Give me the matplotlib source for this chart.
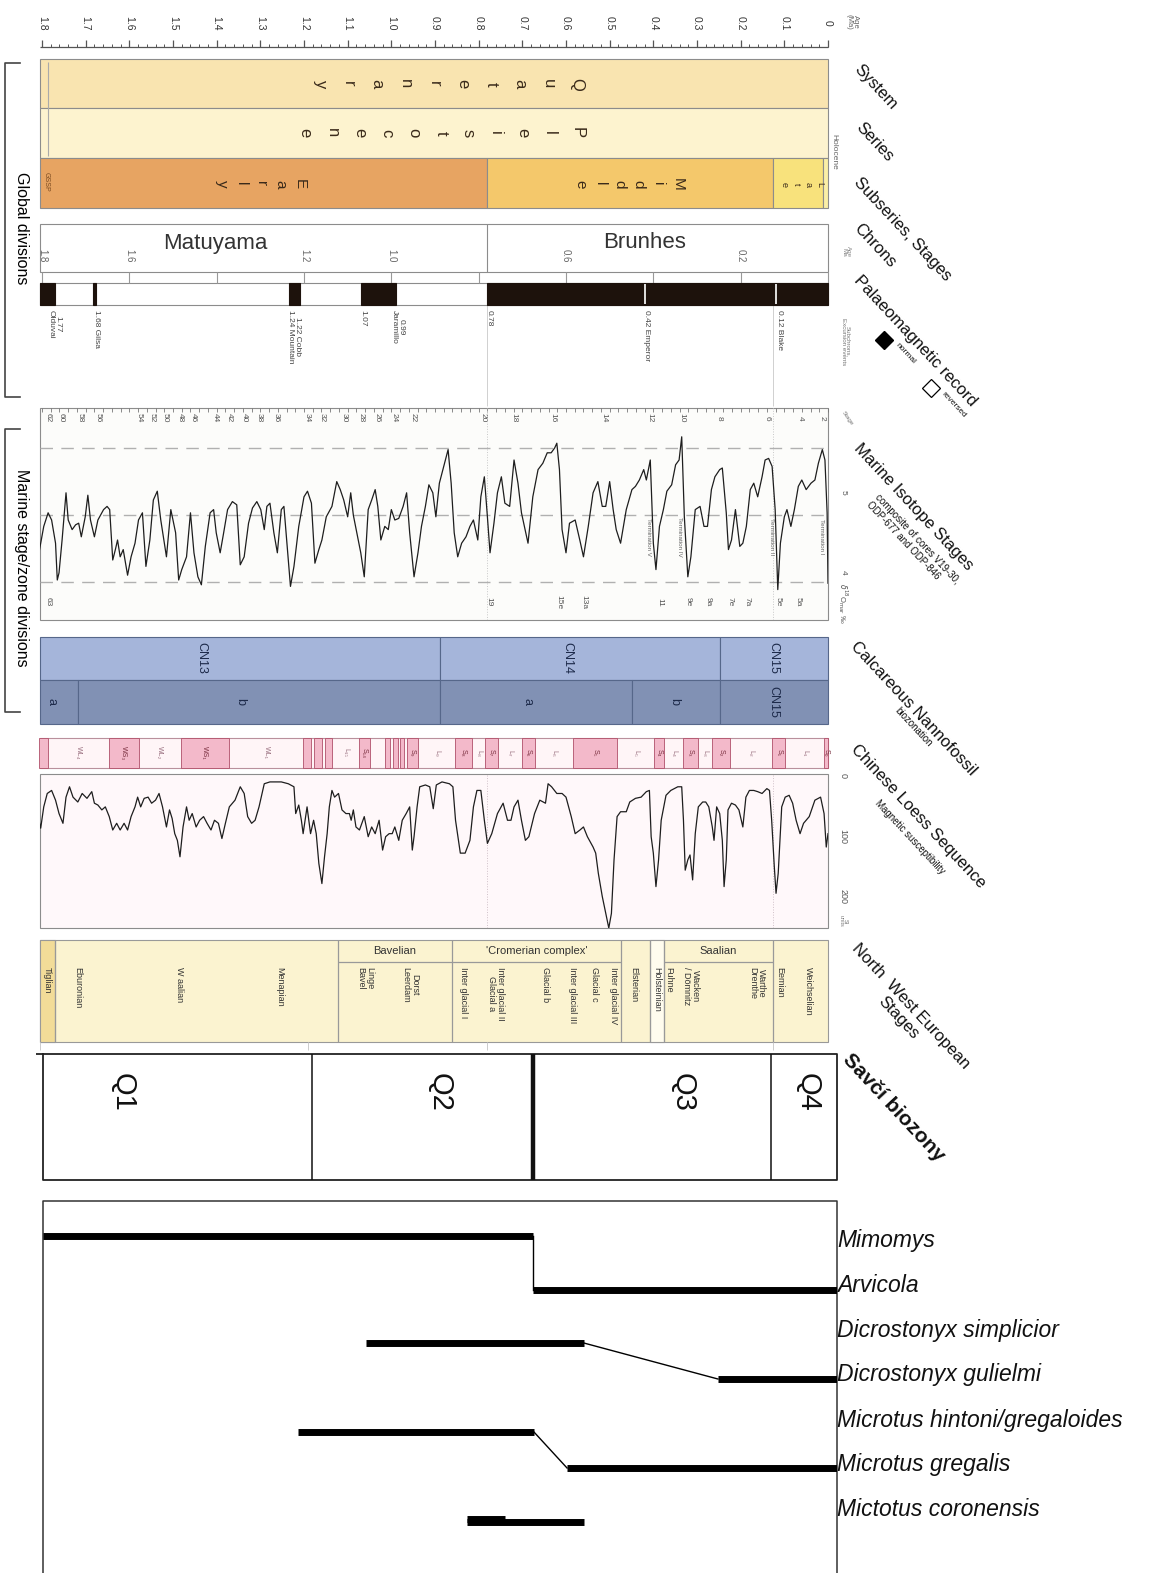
import numpy as np
import matplotlib.pyplot as plt
from matplotlib.patches import Rectangle

plt.rcParams['font.family'] = ['Liberation Sans', 'DejaVu Sans']

# ---------------- data ----------------
# chronostratigraphy (Ma)
sub_names = ['Early', 'Middle', 'Late', '']
sub_old = [1.805, 0.781, 0.126, 0.0117]
sub_young = [0.781, 0.126, 0.0117, 0.0]

chron_names = ['Matuyama', 'Brunhes']
chron_label_age = [1.404, 0.419]
chron_boundary = 0.78
chron_tick_ages = [1.8, 1.6, 1.2, 1.0, 0.6, 0.2]

normal_old = [1.805, 1.683, 1.235, 1.07, 0.78]
normal_young = [1.77, 1.677, 1.21, 0.99, 0.0]
excursion_ages = [0.42, 0.12]
subchron_text = ['1.77\nOlduvai', '1.68 Gilsa', '1.22 Cobb\n1.24 Mountain', '1.07',
                 '0.99\nJaramillo', '0.78', '0.42 Emperor', '0.12 Blake']
subchron_age = [1.772, 1.676, 1.222, 1.065, 0.985, 0.777, 0.415, 0.112]

# marine isotope record (age Ma, d18O per mil)
mis_age = [1.807, 1.796, 1.786, 1.778, 1.769, 1.765, 1.761, 1.754, 1.745, 1.740,
           1.731, 1.723, 1.716, 1.710, 1.701, 1.695, 1.689, 1.680, 1.672, 1.659,
           1.651, 1.645, 1.638, 1.632, 1.627, 1.621, 1.614, 1.604, 1.596, 1.587,
           1.579, 1.570, 1.562, 1.553, 1.545, 1.536, 1.528, 1.515, 1.505, 1.494,
           1.487, 1.480, 1.469, 1.460, 1.452, 1.443, 1.435, 1.426, 1.415, 1.407,
           1.401, 1.392, 1.384, 1.375, 1.364, 1.354, 1.346, 1.337, 1.327, 1.318,
           1.308, 1.299, 1.291, 1.285, 1.278, 1.269, 1.261, 1.252, 1.246, 1.240,
           1.231, 1.223, 1.212, 1.200, 1.192, 1.183, 1.175, 1.166, 1.159, 1.149,
           1.136, 1.125, 1.117, 1.109, 1.100, 1.093, 1.087, 1.079, 1.070, 1.062,
           1.053, 1.045, 1.037, 1.031, 1.024, 1.015, 1.007, 1.000, 0.992, 0.983,
           0.973, 0.965, 0.958, 0.948, 0.939, 0.931, 0.922, 0.914, 0.905, 0.898,
           0.890, 0.880, 0.870, 0.863, 0.856, 0.848, 0.839, 0.829, 0.820, 0.812,
           0.802, 0.795, 0.787, 0.780, 0.774, 0.765, 0.757, 0.748, 0.740, 0.729,
           0.719, 0.710, 0.702, 0.687, 0.676, 0.664, 0.653, 0.643, 0.634, 0.626,
           0.621, 0.615, 0.609, 0.600, 0.592, 0.579, 0.568, 0.560, 0.549, 0.538,
           0.527, 0.517, 0.509, 0.500, 0.492, 0.485, 0.475, 0.462, 0.449, 0.441,
           0.432, 0.422, 0.416, 0.407, 0.400, 0.394, 0.386, 0.377, 0.369, 0.358,
           0.349, 0.341, 0.335, 0.329, 0.321, 0.314, 0.304, 0.293, 0.284, 0.276,
           0.267, 0.259, 0.248, 0.242, 0.233, 0.228, 0.221, 0.212, 0.202, 0.195,
           0.187, 0.178, 0.170, 0.161, 0.151, 0.144, 0.136, 0.128, 0.121, 0.115,
           0.109, 0.100, 0.094, 0.085, 0.077, 0.068, 0.060, 0.050, 0.039, 0.030,
           0.022, 0.013, 0.007, 0.002, 0.000]
mis_d18o = [4.25, 4.58, 4.75, 4.66, 4.37, 3.91, 4.00, 4.41, 5.00, 4.66,
            4.54, 4.60, 4.62, 4.45, 4.70, 4.97, 4.66, 4.45, 4.66, 4.79,
            4.83, 4.79, 4.16, 4.29, 4.41, 4.20, 4.29, 3.97, 4.20, 4.37,
            4.66, 4.75, 4.08, 4.41, 4.91, 5.02, 4.66, 4.20, 4.79, 4.50,
            3.91, 4.04, 4.20, 4.75, 4.25, 3.95, 3.85, 4.33, 4.75, 4.79,
            4.50, 4.25, 4.50, 4.79, 4.89, 4.85, 4.10, 4.20, 4.62, 4.81,
            4.89, 4.79, 4.54, 4.83, 4.87, 4.50, 4.25, 4.79, 4.83, 4.43,
            3.83, 4.08, 4.58, 4.95, 5.02, 4.87, 4.12, 4.29, 4.41, 4.70,
            4.83, 5.14, 5.04, 4.91, 4.70, 5.00, 4.72, 4.50, 4.25, 3.95,
            4.79, 4.91, 5.04, 4.83, 4.41, 4.58, 4.54, 4.79, 4.66, 4.68,
            4.83, 5.00, 4.50, 3.95, 4.25, 4.58, 4.83, 5.10, 5.00, 4.70,
            5.12, 5.33, 5.54, 5.12, 4.50, 4.20, 4.37, 4.45, 4.58, 4.66,
            4.41, 4.95, 5.20, 4.70, 4.25, 4.62, 5.00, 5.20, 4.87, 4.83,
            5.41, 5.12, 4.75, 4.37, 4.95, 5.29, 5.37, 5.50, 5.50, 5.56,
            5.62, 5.29, 4.54, 4.25, 4.62, 4.66, 4.40, 4.20, 4.58, 5.00,
            5.14, 4.83, 4.83, 5.14, 4.79, 4.54, 4.37, 4.79, 5.04, 5.08,
            5.16, 5.29, 5.16, 5.41, 4.37, 4.04, 4.58, 4.79, 5.02, 5.10,
            5.35, 5.41, 5.70, 4.70, 3.95, 4.20, 4.79, 4.83, 4.58, 4.58,
            5.04, 5.20, 5.29, 5.31, 4.75, 4.29, 4.41, 4.79, 4.33, 4.37,
            4.58, 5.04, 5.12, 4.95, 5.20, 5.41, 5.43, 5.33, 4.79, 3.79,
            4.37, 4.70, 4.79, 4.58, 4.79, 5.08, 5.16, 5.04, 5.12, 5.16,
            5.37, 5.54, 5.41, 4.75, 3.87]
mis_ref_levels = [5.56, 4.72, 3.89]
mis_even = [62, 60, 58, 56, 54, 52, 50, 48, 46, 44, 42, 40, 38, 36, 34, 32,
            30, 28, 26, 24, 22, 20, 18, 16, 14, 12, 10, 8, 6, 4, 2]
mis_even_age = [1.786, 1.756, 1.713, 1.672, 1.578, 1.548, 1.518, 1.484, 1.454, 1.404,
                1.372, 1.337, 1.303, 1.264, 1.193, 1.159, 1.108, 1.070, 1.033, 0.994,
                0.950, 0.790, 0.719, 0.630, 0.513, 0.408, 0.334, 0.250, 0.140, 0.064, 0.014]
mis_odd = ['63', '19', '15e', '13a', '11', '9e', '9a', '7e', '7a', '5e', '5a']
mis_odd_age = [1.786, 0.776, 0.616, 0.559, 0.385, 0.321, 0.275, 0.224, 0.186, 0.115, 0.069]
termination_names = ['Termination I', 'Termination II', 'Termination IV', 'Termination V']
termination_age = [0.014, 0.130, 0.339, 0.412]

# calcareous nannofossil zones
nanno_upper = ['CN13', 'CN14', 'CN15']
nanno_upper_bounds = [1.805, 0.888, 0.247, 0.0]
nanno_upper_label_age = [1.434, 0.596, 0.124]
nanno_lower = ['a', 'b', 'a', 'b', 'CN15']
nanno_lower_bounds = [1.805, 1.718, 0.888, 0.449, 0.247, 0.0]
nanno_lower_label_age = [1.779, 1.347, 0.689, 0.353, 0.124]

# Chinese loess: palaeosols (pink) and magnetic susceptibility
soil_old = [1.807, 1.647, 1.482, 1.202, 1.177, 1.152, 1.074, 1.015, 0.996, 0.980,
            0.964, 0.854, 0.785, 0.701, 0.584, 0.398, 0.332, 0.266, 0.128, 0.009]
soil_young = [1.786, 1.578, 1.372, 1.184, 1.159, 1.136, 1.049, 1.003, 0.985, 0.971,
              0.939, 0.815, 0.756, 0.671, 0.483, 0.376, 0.298, 0.224, 0.098, 0.0]
soil_names = ['', 'WS\u2083', 'WS\u2081', '', '', '', 'S\u2081\u2084', '', '', '',
              'S\u2089', 'S\u2088', 'S\u2087', 'S\u2086', 'S\u2085', 'S\u2084', 'S\u2083',
              'S\u2082', 'S\u2081', 'S\u2080']
loess_name = ['WL\u2084', 'WL\u2082', 'WL\u2081', 'L\u2081\u2085', 'L\u2089', 'L\u2088',
              'L\u2087', 'L\u2086', 'L\u2085', 'L\u2084', 'L\u2083', 'L\u2082', 'L\u2081']
loess_name_age = [1.716, 1.530, 1.287, 1.105, 0.896, 0.800, 0.728, 0.628, 0.440,
                  0.354, 0.282, 0.176, 0.054]

loess_age = [1.807, 1.803, 1.796, 1.788, 1.778, 1.769, 1.761, 1.752, 1.745, 1.737,
             1.729, 1.718, 1.708, 1.697, 1.686, 1.680, 1.672, 1.663, 1.655, 1.646,
             1.638, 1.629, 1.621, 1.612, 1.604, 1.596, 1.587, 1.581, 1.574, 1.566,
             1.557, 1.549, 1.540, 1.532, 1.524, 1.515, 1.508, 1.502, 1.496, 1.490,
             1.484, 1.477, 1.469, 1.463, 1.456, 1.447, 1.439, 1.430, 1.422, 1.413,
             1.405, 1.396, 1.388, 1.380, 1.371, 1.358, 1.346, 1.337, 1.329, 1.320,
             1.312, 1.303, 1.291, 1.278, 1.252, 1.236, 1.223, 1.219, 1.212, 1.206,
             1.202, 1.193, 1.185, 1.178, 1.172, 1.166, 1.159, 1.153, 1.147, 1.142,
             1.136, 1.130, 1.121, 1.113, 1.104, 1.096, 1.092, 1.087, 1.081, 1.073,
             1.062, 1.053, 1.045, 1.037, 1.028, 1.020, 1.013, 1.005, 0.998, 0.992,
             0.983, 0.975, 0.966, 0.958, 0.952, 0.948, 0.941, 0.935, 0.922, 0.912,
             0.904, 0.897, 0.884, 0.867, 0.859, 0.853, 0.842, 0.831, 0.820, 0.812,
             0.804, 0.795, 0.787, 0.780, 0.770, 0.757, 0.744, 0.734, 0.726, 0.719,
             0.710, 0.702, 0.693, 0.685, 0.672, 0.660, 0.647, 0.641, 0.633, 0.621,
             0.609, 0.600, 0.588, 0.579, 0.568, 0.560, 0.551, 0.538, 0.532, 0.526,
             0.517, 0.509, 0.502, 0.496, 0.490, 0.483, 0.475, 0.462, 0.454, 0.441,
             0.428, 0.416, 0.409, 0.405, 0.400, 0.394, 0.388, 0.382, 0.371, 0.360,
             0.352, 0.344, 0.335, 0.331, 0.327, 0.321, 0.316, 0.310, 0.304, 0.297,
             0.287, 0.280, 0.273, 0.265, 0.261, 0.255, 0.248, 0.242, 0.238, 0.233,
             0.229, 0.221, 0.212, 0.204, 0.195, 0.188, 0.180, 0.170, 0.161, 0.151,
             0.140, 0.134, 0.129, 0.123, 0.119, 0.114, 0.106, 0.098, 0.089, 0.081,
             0.073, 0.064, 0.056, 0.043, 0.030, 0.017, 0.009, 0.004, 0.000]
loess_chi = [74, 87, 52, 30, 25, 41, 63, 79, 36, 19,
             36, 44, 30, 38, 27, 46, 49, 57, 52, 68,
             90, 79, 90, 79, 90, 68, 52, 36, 52, 38,
             36, 46, 41, 30, 52, 85, 57, 71, 96, 107,
             134, 85, 52, 74, 63, 85, 74, 68, 79, 90,
             74, 79, 104, 79, 52, 41, 19, 30, 68, 79,
             74, 52, 14, 11, 11, 14, 19, 63, 49, 74,
             96, 52, 96, 74, 96, 145, 178, 134, 96, 52,
             25, 36, 30, 57, 63, 63, 74, 57, 85, 90,
             68, 101, 85, 96, 74, 123, 101, 96, 96, 85,
             107, 74, 63, 52, 123, 101, 52, 19, 16, 19,
             55, 16, 11, 14, 19, 74, 128, 128, 107, 52,
             25, 25, 74, 112, 96, 63, 46, 74, 74, 52,
             41, 74, 107, 101, 63, 41, 46, 14, 19, 30,
             30, 36, 68, 96, 90, 85, 101, 118, 128, 161,
             199, 227, 251, 227, 139, 68, 60, 60, 44, 38,
             36, 27, 25, 101, 128, 183, 139, 74, 33, 25,
             22, 19, 19, 74, 156, 139, 131, 172, 96, 52,
             44, 44, 52, 85, 107, 52, 63, 107, 183, 139,
             57, 46, 49, 57, 85, 36, 25, 25, 27, 30,
             22, 25, 74, 150, 194, 161, 52, 36, 33, 46,
             74, 96, 79, 68, 41, 36, 63, 118, 96]

# North West European stages
nw_bounds = [1.805, 1.770, 1.122, 0.861, 0.474, 0.408, 0.376, 0.126, 0.0]
nw_groups = ['Bavelian', "'Cromerian complex'", 'Saalian']
nw_group_old = [1.122, 0.861, 0.376]
nw_group_young = [0.861, 0.474, 0.126]
nw_names = ['Tiglian', 'Eburonian', 'W aalian', 'Menapian', 'Linge\nBavel', 'Dorst\nLeerdam',
            'Inter glacial I', 'Inter glacial II\nGlacial a', 'Glacial b', 'Inter glacial III',
            'Glacial c', 'Inter glacial IV', 'Elsterian', 'Holsteinian', 'Fuhne',
            'Wacken\n/ Dömnitz', 'Warthe\nDrenthe', 'Eemian', 'Weichselian']
nw_age = [1.789, 1.718, 1.484, 1.255, 1.060, 0.957, 0.834, 0.760, 0.646, 0.586,
          0.534, 0.492, 0.444, 0.392, 0.364, 0.314, 0.163, 0.110, 0.044]

# mammal biozones and vole lineages
q_names = ['Q1', 'Q2', 'Q3', 'Q4']
q_bounds = [1.8, 1.19, 0.69, 0.15, 0.0]
q_label_age = [1.62, 0.90, 0.35, 0.066]

species = ['Mimomys', 'Arvicola', 'Dicrostonyx simplicior', 'Dicrostonyx gulielmi',
           'Microtus hintoni/gregaloides', 'Microtus gregalis', 'Mictotus coronensis']
species_first = [1.8, 0.69, 1.068, 0.270, 1.222, 0.612, 0.839]
species_last = [0.69, 0.0, 0.574, 0.0, 0.687, 0.0, 0.574]
ancestor_of = [(0, 1), (2, 3), (4, 5)]

# ---------------- layout ----------------
W, H = 1159, 1573
fig = plt.figure(figsize=(W / 100, H / 100), dpi=100)
fig.patch.set_facecolor('white')


def age_at(px, x_old=42, x_now=828):
    return 1.8 - (px - x_old) / (x_now - x_old) * 1.8


def add_axes(x0, y0, x1, y1, xlim, ylim):
    ax = fig.add_axes([x0 / W, 1 - y1 / H, (x1 - x0) / W, (y1 - y0) / H])
    ax.set_xlim(*xlim)
    ax.set_ylim(*ylim)
    ax.axis('off')
    return ax


page = add_axes(0, 0, W, H, (0, W), (H, 0))
time = add_axes(0, 0, W, H, (age_at(0), age_at(W)), (H, 0))
lower = add_axes(43, 0, 837, H, (1.8, 0.0), (H, 0))

EDGE = '#8c8c8c'


def band(ax, old, young, y0, y1, fc, ec=EDGE, lw=0.8, z=1):
    ax.add_patch(Rectangle((young, y0), old - young, y1 - y0, facecolor=fc,
                           edgecolor=ec, linewidth=lw, zorder=z))


def vtext(ax, x, y, s, size, color='#222', va='center', **kw):
    ax.text(x, y, s, rotation=-90, ha='center', va=va, fontsize=size, color=color,
            linespacing=1.0, **kw)


def spaced(word, a_first, a_last, y, size):
    for ch, a in zip(word, np.linspace(a_first, a_last, len(word))):
        vtext(time, a, y, ch, size, color='#3a2a1a', zorder=3)


def slanted(x, y, s, size, **kw):
    page.text(x, y, s, rotation=-47, rotation_mode='anchor', ha='left', va='top',
              fontsize=size, color='#111', **kw)


# age ruler
minor = np.round(np.arange(0, 1.8001, 0.02), 2)
major = np.round(np.arange(0, 1.8001, 0.1), 1)
time.hlines(47, 1.805, 0, color='#555', lw=0.9)
time.vlines(minor, 44, 47, color='#555', lw=0.7)
time.vlines(major, 40, 47, color='#555', lw=0.9)
for a in major:
    vtext(time, a, 23, '0' if a == 0 else f'{a:.1f}', 7.5, color='#333')
page.text(852, 22, 'Age\n(Ma)', rotation=-90, ha='center', va='center', fontsize=5.5,
          color='#666', linespacing=0.9)

# system / series / subseries
band(time, 1.805, 0.0, 59, 108, '#F9E4B0')
band(time, 1.805, 0.0, 108, 158, '#FDF3CF')
time.vlines(1.786, 62, 156, color='#aaa', lw=0.8, zorder=2)
spaced('Quaternary', 0.575, 1.163, 84, 12)
spaced('Pleistocene', 0.575, 1.198, 133, 12)
sub_colors = ['#E7A462', '#F4C86B', '#F8E27C', '#FBEFA6']
for name, o, y, c in zip(sub_names, sub_old, sub_young, sub_colors):
    band(time, o, y, 158, 208, c)
spaced('Early', 1.209, 1.388, 184, 11)
spaced('Middle', 0.344, 0.568, 184, 11)
spaced('Late', 0.018, 0.101, 184, 6.5)
vtext(time, 1.79, 182, 'GSSP', 5, color='#7a4a20', zorder=3)
page.text(834, 152, 'Holocene', rotation=-90, ha='center', va='center', fontsize=6, color='#666')

# chrons
band(time, 1.805, 0.0, 224, 272, 'white')
time.vlines(chron_boundary, 224, 272, color=EDGE, lw=0.8, zorder=2)
for name, a in zip(chron_names, chron_label_age):
    time.text(a, 243, name, ha='center', va='center', fontsize=16, color='#333', zorder=3)
for a in chron_tick_ages:
    vtext(time, a, 256, f'{a:.1f}', 7, color='#666', zorder=3)
time.vlines(np.round(np.arange(0, 1.8001, 0.2), 1), 272, 283, color='#999', lw=0.8)
page.text(846, 252, 'Age\nMa', rotation=-90, ha='center', va='center', fontsize=4.5,
          color='#888', linespacing=0.9)

# palaeomagnetic record
band(time, 1.805, 0.0, 283, 305, 'white')
for o, y in zip(normal_old, normal_young):
    band(time, o, y, 283, 305, '#1d120c', ec='#1d120c', z=2)
time.vlines(excursion_ages, 284, 304, color='#f0f0f0', lw=1.3, zorder=3)
for s, a in zip(subchron_text, subchron_age):
    vtext(time, a, 310, s, 6, color='#444', va='top', zorder=3)
page.text(846, 342, 'Subchrons,\nExcursion events', rotation=-90, ha='center', va='center',
          fontsize=4.5, color='#777', linespacing=0.9)
time.vlines([0.78, 0.126], 305, 406, color='#d0d0d0', lw=0.7, zorder=0)

# marine isotope stages
band(time, 1.805, 0.0, 408, 620, '#FCFCFA')
time.vlines(minor, 408, 412, color='#777', lw=0.6, zorder=2)
mis = add_axes(40, 408, 828, 620, (age_at(40), 0.0), (3.41, 6.06))
for v in mis_ref_levels:
    mis.axhline(v, color='#b0b0b0', lw=1.0, dashes=(9, 6))
for a in (0.78, 0.126):
    mis.axvline(a, color='#c8c8c8', lw=0.7, ls=':')
mis.plot(mis_age, mis_d18o, color='#1e1e1e', lw=0.9)
for n, a in zip(mis_even, mis_even_age):
    vtext(time, a, 418, str(n), 6, color='#555', zorder=3)
for s, a in zip(mis_odd, mis_odd_age):
    vtext(time, a, 602, s, 6, color='#555', zorder=3)
for s, a in zip(termination_names, termination_age):
    mis.text(a, 4.45, s, rotation=-90, ha='center', va='center', fontsize=4.5, color='#666')
for v in (5, 4):
    mis.text(-0.035, v, str(v), rotation=-90, ha='center', va='center', fontsize=6, color='#555')
mis.text(-0.035, 3.62, r'$\delta^{18}$O$_{\rm mar}$ ‰', rotation=-90, ha='center', va='center',
         fontsize=5.5, color='#555')
page.text(847, 418, 'Stage', rotation=-55, ha='center', va='center', fontsize=4.5, color='#777')

# calcareous nannofossil zones
for i in range(len(nanno_upper)):
    band(time, nanno_upper_bounds[i], nanno_upper_bounds[i + 1], 637, 680, '#A5B5DA', ec='#56678a')
for i in range(len(nanno_lower)):
    band(time, nanno_lower_bounds[i], nanno_lower_bounds[i + 1], 680, 724, '#8191B4', ec='#56678a')
for s, a in zip(nanno_upper, nanno_upper_label_age):
    vtext(time, a, 658, s, 9, color='#1d2a4a', zorder=3)
for s, a in zip(nanno_lower, nanno_lower_label_age):
    vtext(time, a, 702, s, 9, color='#1d2a4a', zorder=3)

# loess-palaeosol column
band(time, 1.805, 0.0, 738, 768, '#FFF5F7', ec='#b9909c')
for o, y, s in zip(soil_old, soil_young, soil_names):
    band(time, o, y, 738, 768, '#F3B9CA', ec='#b0506a', lw=0.6, z=2)
    if s:
        vtext(time, (o + y) / 2, 753, s, 5, color='#7a3040', zorder=3)
for s, a in zip(loess_name, loess_name_age):
    vtext(time, a, 753, s, 5, color='#9a7080', zorder=3)

band(time, 1.805, 0.0, 774, 928, '#FFF8FA')
loess = add_axes(40, 774, 828, 928, (age_at(40), 0.0), (251, -2))
for a in (0.78, 0.126):
    loess.axvline(a, color='#d0c0c8', lw=0.7, ls=':')
loess.plot(loess_age, loess_chi, color='#1e1e1e', lw=0.9)
for v in (0, 100, 200):
    loess.text(-0.035, v, str(v), rotation=-90, ha='center', va='center', fontsize=6.5, color='#555')
loess.text(-0.035, 240, 'SI\nunits', rotation=-90, ha='center', va='center', fontsize=4,
           color='#777', linespacing=0.9)

# North West European stages
band(time, 1.805, 0.0, 940, 1042, '#FBF3D0', ec='#999')
band(time, nw_bounds[0], nw_bounds[1], 940, 1042, '#F2DC98', ec='#999', z=2)
band(time, nw_bounds[5], nw_bounds[6], 940, 1042, '#FFFCEE', ec='#999', z=2)
time.vlines(nw_bounds[1:-1], 940, 1042, color='#999', lw=0.9, zorder=2)
for s, o, y in zip(nw_groups, nw_group_old, nw_group_young):
    time.hlines(962, o, y, color='#999', lw=0.9, zorder=2)
    time.text((o + y) / 2, 951, s, ha='center', va='center', fontsize=8, color='#333', zorder=3)
for s, a in zip(nw_names, nw_age):
    vtext(time, a, 967, s, 6.5, color='#333', va='top', zorder=3)
time.vlines([1.805, 1.19, 0.78, 0.126], 1042, 1050, color='#ccc', lw=0.7)

# mammal biozones
lower.plot([1.8, 1.8, 0, 0, 1.8], [1054, 1180, 1180, 1054, 1054], color='#222', lw=1.3,
           clip_on=False)
lower.hlines(1054, 1.815, 1.8, color='#222', lw=1.3, clip_on=False)
lower.vlines(q_bounds[1:-1], 1054, 1180, color='#111', lw=[1.1, 3.2, 1.1])
for s, a in zip(q_names, q_label_age):
    lower.text(a, 1092, s, rotation=-90, ha='center', va='center', fontsize=21, color='#111')

# vole ranges
lower.plot([1.8, 1.8, 0, 0], [H, 1201, 1201, H], color='#333', lw=1.1, clip_on=False)
row_y = [1240 + 45 * i for i in range(len(species))]
bar_shift = [-4, 5, 13, 4, 12, 3, 12]
bar_y = [r + s for r, s in zip(row_y, bar_shift)]
for i in range(len(species)):
    lower.plot([species_first[i], species_last[i]], [bar_y[i], bar_y[i]], color='black',
               lw=5, solid_capstyle='butt')
lower.plot([species_first[6], 0.753], [bar_y[6] - 3, bar_y[6] - 3], color='black', lw=5,
           solid_capstyle='butt')
for a, b in ancestor_of:
    lower.plot([species_last[a], species_first[b]], [bar_y[a], bar_y[b]], color='black', lw=1.0)
for s, y in zip(species, row_y):
    page.text(837, y, s, ha='left', va='center', fontsize=16.5, style='italic', color='#111')

# side brackets
page.plot([20, 5, 5, 20], [63, 63, 397, 397], color='#444', lw=1.2)
page.text(21, 228, 'Global divisions', rotation=-90, ha='center', va='center', fontsize=11.5)
page.plot([20, 5, 5, 20], [429, 429, 712, 712], color='#444', lw=1.2)
page.text(21, 568, 'Marine stage/zone divisions', rotation=-90, ha='center', va='center',
          fontsize=11.5)

# panel titles
slanted(862, 62, 'System', 12)
slanted(864, 120, 'Series', 12)
slanted(862, 175, 'Subseries, Stages', 12)
slanted(862, 221, 'Chrons', 12)
slanted(862, 273, 'Palaeomagnetic record', 12)
page.plot(884, 340, marker='D', ms=9, color='black')
page.plot(931, 388, marker='D', ms=9, mfc='white', mec='black', mew=0.9)
slanted(899, 342, 'normal', 6)
slanted(945, 391, 'reversed', 6)
slanted(862, 441, 'Marine Isotope Stages', 12)
slanted(880, 492, 'composite of cores V19-30,\nODP-677 and ODP-846', 7)
slanted(859, 639, 'Calcareous Nannofossil', 12)
slanted(900, 706, 'biozonation', 7)
slanted(859, 742, 'Chinese Loess Sequence', 12)
slanted(880, 798, 'Magnetic susceptibility', 7)
page.text(860, 941, 'North  West European\nStages', rotation=-47, rotation_mode='anchor',
          ha='left', va='top', fontsize=12, multialignment='center', color='#111')
slanted(853, 1050, 'Savčí biozony', 15, fontweight='bold')

fig.savefig('out.png', dpi=100, facecolor='white')
